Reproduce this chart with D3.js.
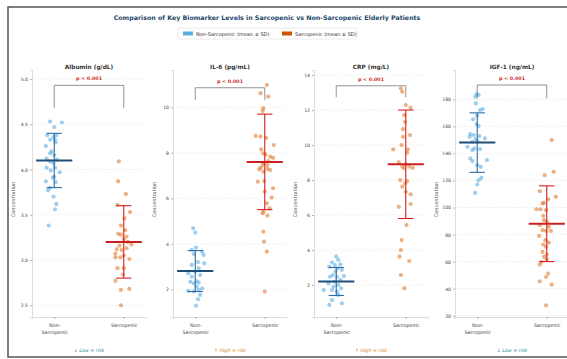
<!DOCTYPE html>
<html>
<head>
<meta charset="utf-8">
<script src="https://cdn.jsdelivr.net/npm/d3@7"></script>
<style>
  body { margin: 0; background: #fff; }
  svg { font-family: "DejaVu Sans", sans-serif; }
</style>
</head>
<body>
<div id="chart"></div>
<script>
// ---- data ----
const groups = ["Non-Sarcopenic", "Sarcopenic"];
const markers = ["Albumin (g/dL)", "IL-6 (pg/mL)", "CRP (mg/L)", "IGF-1 (ng/mL)"];
const riskNotes = ["\u2193 Low = risk", "\u2191 High = risk", "\u2191 High = risk", "\u2193 Low = risk"];
const pLabels = ["p < 0.001", "p < 0.001", "p < 0.001", "p < 0.001"];

const means = [[4.1, 3.2], [2.8, 7.6], [2.2, 8.9], [148, 88]];
const sds = [[0.3, 0.4], [0.9, 2.1], [0.8, 3.1], [22, 28]];

const yDomains = [[2.37, 5.1], [0.78, 11.64], [0.17, 14.29], [19, 201.7]];
const yTicks = [
  [2.5, 3.0, 3.5, 4.0, 4.5, 5.0],
  [2, 4, 6, 8, 10],
  [2, 4, 6, 8, 10, 12, 14],
  [20, 40, 60, 80, 100, 120, 140, 160, 180]
];
// bracket top and bracket foot, in data units
const brackets = [[4.93, 4.68], [10.86, 10.32], [13.39, 12.73], [190.6, 180.7]];

// individual patients: [value, jitter in category units]
const albuminNon = [[4.53,-0.06],[4.52,0.11],[4.47,0],[4.38,-0.10],[4.38,0.03],[4.36,-0.01],[4.33,-0.06],[4.33,0.01],[4.30,0.02],[4.26,-0.12],[4.20,-0.04],[4.18,-0.06],[4.16,0],[4.12,-0.11],[4.11,0.04],[4.09,-0.06],[4.07,-0.01],[4.02,-0.11],[4.02,0.01],[3.97,0.08],[3.99,-0.05],[3.92,0],[3.91,-0.02],[3.87,-0.12],[3.86,0.02],[3.80,-0.06],[3.77,-0.09],[3.70,-0.01],[3.62,0.03],[3.56,0.01],[3.38,-0.08]];
const albuminSar = [[4.09,-0.07],[3.87,-0.08],[3.73,0.03],[3.61,-0.09],[3.53,0.09],[3.46,0.01],[3.38,-0.04],[3.33,0.02],[3.29,-0.08],[3.28,-0.04],[3.26,0.04],[3.23,0],[3.20,0.06],[3.17,0.11],[3.16,-0.06],[3.13,0.04],[3.12,-0.10],[3.11,-0.03],[3.07,-0.12],[3.05,0],[3.03,-0.05],[3.01,0.08],[3.03,-0.12],[2.91,-0.09],[2.91,0],[2.84,-0.01],[2.77,-0.12],[2.67,-0.04],[2.68,0.08],[2.50,-0.04]];
const il6Non = [[4.68,-0.03],[4.49,0],[3.83,0.01],[3.73,-0.05],[3.65,0.10],[3.55,-0.02],[3.51,0.12],[3.07,-0.05],[3.14,0.13],[3.19,0.04],[2.70,-0.10],[2.77,0],[2.92,0.05],[2.55,-0.05],[2.63,0.07],[2.36,0.02],[2.26,-0.02],[2.29,0.05],[2.04,0.10],[1.93,-0.10],[1.90,-0.02],[1.97,0.05],[1.75,0.07],[1.56,0.04],[1.28,0.01],[2.33,-0.07],[2.11,0.02]];
const il6Sar = [[10.98,0.03],[10.62,-0.06],[10.47,0.05],[9.96,-0.02],[9.84,-0.03],[8.74,-0.13],[8.71,-0.06],[8.66,0.02],[8.34,0.13],[8.15,-0.05],[7.98,-0.02],[7.93,0.01],[7.83,0.08],[7.78,0.12],[7.64,0.05],[7.54,-0.01],[7.46,-0.03],[7.46,0.04],[7.34,-0.06],[7.27,-0.08],[7.24,0.08],[7.29,0.04],[7.17,-0.02],[6.73,-0.10],[6.76,-0.01],[6.44,0.12],[6.29,0],[6.03,0.10],[5.78,0.03],[5.56,0.07],[5.41,-0.02],[5.34,-0.03],[5.24,0.04],[4.53,-0.02],[4.09,-0.01],[3.65,0.03],[1.90,0]];
const crpNon = [[3.62,0],[3.43,0.03],[3.30,-0.06],[3.18,0.06],[3.14,-0.02],[3.05,-0.10],[2.95,0.02],[2.86,0.08],[2.76,-0.01],[2.57,-0.05],[2.51,0.11],[2.47,0.01],[2.47,-0.09],[2.29,0.06],[2.19,-0.02],[2.10,-0.11],[2.0,0.03],[1.71,-0.18],[1.71,-0.06],[1.62,0.01],[1.43,0.03],[1.14,-0.06],[0.95,0.08],[0.86,-0.10],[1.90,-0.04],[1.81,0.07]];
const crpSar = [[13.24,-0.07],[13.05,-0.05],[12.29,0],[12.13,0.07],[11.71,-0.02],[11.33,-0.01],[10.91,-0.04],[10.57,0.06],[10.47,-0.04],[10.0,-0.06],[9.75,-0.18],[9.75,0.03],[9.56,0.02],[9.01,-0.10],[8.90,0],[8.76,-0.05],[8.76,0.05],[8.70,0.10],[8.67,-0.02],[8.0,-0.08],[7.94,0.02],[7.81,-0.01],[7.62,-0.05],[7.33,0],[7.18,0.07],[6.63,0.07],[6.47,-0.10],[5.43,0.01],[4.57,-0.06],[4.0,-0.07],[3.62,-0.09],[3.37,0.05],[2.57,-0.07],[1.81,-0.02]];
const igfNon = [[183.9,-0.01],[183.2,0.02],[181.9,-0.03],[177,-0.02],[172.1,0.04],[172.8,0.08],[167.9,0],[165.2,-0.06],[161.7,-0.01],[160.2,0.02],[154.3,-0.10],[153.6,-0.05],[152.8,0.03],[151.1,0.11],[152.3,-0.11],[150.6,-0.02],[149.1,0],[148.6,-0.07],[144.9,-0.14],[143.7,-0.04],[143.2,0.04],[142.4,-0.07],[136.3,-0.10],[134.3,-0.07],[135.0,0.14],[131.3,0],[130.1,0.05],[121.9,0.06],[120.2,0.02],[117.0,0],[110.8,-0.03]];
const igfSar = [[149.9,0.07],[126.4,0.10],[123.9,-0.03],[112.1,-0.10],[107.9,0.13],[106.1,0.02],[103.4,-0.04],[103,-0.06],[98.7,-0.15],[98.7,-0.09],[98,-0.01],[93.8,-0.05],[90.6,-0.04],[89.4,0],[86.9,-0.10],[85.6,0.03],[83.2,-0.06],[82.7,-0.01],[82.7,0.06],[79.0,-0.11],[75.8,-0.02],[74.1,0.03],[72.6,-0.05],[70.8,-0.01],[67.1,-0.06],[65.1,0],[63.4,-0.04],[61.7,0],[59.7,-0.08],[57.8,-0.10],[51.1,0.02],[48.6,-0.01],[45.4,-0.10],[43.0,0.07],[27.6,-0.01]];
const points = [[albuminNon, albuminSar], [il6Non, il6Sar], [crpNon, crpSar], [igfNon, igfSar]];

// ---- layout ----
const width = 567, height = 359;
const panelLeft = 32, panelStep = 141, panelWidth = 114;
const plotTop = 70, plotBottom = 317;

const dotColors = ["#5dade2", "#e07b30"];
const meanColors = ["#1f4e79", "#cc1f1f"];
const barColors = ["#2e6a9e", "#d62020"];
const noteColors = ["#2a8f8f", "#e67e22", "#e67e22", "#2a8f8f"];

const svg = d3.select("#chart").append("svg")
  .attr("width", width)
  .attr("height", height);

svg.append("rect")
  .attr("x", 8).attr("y", 7)
  .attr("width", 570).attr("height", 350)
  .attr("fill", "none")
  .attr("stroke", "#555")
  .attr("stroke-width", 1.5);

svg.append("text")
  .attr("x", 267).attr("y", 20)
  .attr("text-anchor", "middle")
  .attr("font-size", 6.3)
  .attr("font-weight", "bold")
  .attr("fill", "#24476b")
  .text("Comparison of Key Biomarker Levels in Sarcopenic vs Non-Sarcopenic Elderly Patients");

// legend
const legend = svg.append("g").attr("class", "legend");
legend.append("rect")
  .attr("x", 178).attr("y", 28)
  .attr("width", 179).attr("height", 11)
  .attr("rx", 1.5)
  .attr("fill", "#fff")
  .attr("stroke", "#ddd")
  .attr("stroke-width", 0.6);
const legendItems = ["Non-Sarcopenic (mean \u00b1 SD)", "Sarcopenic (mean \u00b1 SD)"];
const legendX = [183, 282];
const legendPatch = ["#5dade2", "#d35400"];
legendItems.forEach((t, i) => {
  legend.append("rect")
    .attr("x", legendX[i]).attr("y", 31.5)
    .attr("width", 10).attr("height", 4)
    .attr("fill", legendPatch[i]);
  legend.append("text")
    .attr("x", legendX[i] + 13).attr("y", 35.5)
    .attr("font-size", 5)
    .attr("fill", "#333")
    .text(t);
});

markers.forEach((name, p) => {
  const left = panelLeft + p * panelStep;
  const x = d3.scaleLinear([-0.32, 1.32], [left, left + panelWidth]);
  const y = d3.scaleLinear(yDomains[p], [plotBottom, plotTop]);
  const g = svg.append("g").attr("class", "panel");

  // grid
  g.append("g")
    .selectAll("line")
    .data(yTicks[p])
    .join("line")
      .attr("x1", left).attr("x2", left + panelWidth)
      .attr("y1", d => y(d)).attr("y2", d => y(d))
      .attr("stroke", "#ddd")
      .attr("stroke-width", 0.5)
      .attr("stroke-dasharray", "1.5,1.5");

  // axes
  const yAxis = d3.axisLeft(y)
    .tickValues(yTicks[p])
    .tickFormat(p === 0 ? d3.format(".1f") : d3.format("d"))
    .tickSize(2).tickPadding(2);
  g.append("g")
      .attr("transform", `translate(${left},0)`)
      .call(yAxis)
      .call(s => s.select(".domain").attr("stroke", "#ddd"))
      .call(s => s.selectAll(".tick line").attr("stroke", "#666").attr("stroke-width", 0.5))
      .call(s => s.selectAll(".tick text").attr("font-size", 4.6).attr("fill", "#444").attr("font-family", "DejaVu Sans"));

  const xAxis = d3.axisBottom(x).tickValues([0, 1]).tickSize(2).tickFormat("");
  const xg = g.append("g")
      .attr("transform", `translate(0,${plotBottom})`)
      .call(xAxis)
      .call(s => s.select(".domain").attr("stroke", "#ddd"))
      .call(s => s.selectAll(".tick line").attr("stroke", "#666").attr("stroke-width", 0.5));
  xg.selectAll(".tick").each(function(d) {
    const t = d3.select(this).append("text")
      .attr("fill", "#444")
      .attr("font-size", 4.8)
      .attr("font-family", "DejaVu Sans")
      .attr("text-anchor", "middle");
    const lines = d === 0 ? ["Non-", "Sarcopenic"] : ["Sarcopenic"];
    lines.forEach((l, k) => t.append("tspan").attr("x", 0).attr("y", 10 + k * 6.5).text(l));
  });

  // y label
  g.append("text")
    .attr("transform", `translate(${left - 17},${(plotTop + plotBottom) / 2 + 6}) rotate(-90)`)
    .attr("text-anchor", "middle")
    .attr("font-size", 5)
    .attr("fill", "#555")
    .text("Concentration");

  // panel title
  g.append("text")
    .attr("x", left + panelWidth / 2).attr("y", 68.5)
    .attr("text-anchor", "middle")
    .attr("font-size", 5.8)
    .attr("font-weight", "bold")
    .attr("fill", "#333")
    .text(name);

  // points
  groups.forEach((_, gi) => {
    g.append("g")
      .selectAll("circle")
      .data(points[p][gi])
      .join("circle")
        .attr("cx", d => x(gi + d[1]))
        .attr("cy", d => y(d[0]))
        .attr("r", 2.1)
        .attr("fill", dotColors[gi])
        .attr("fill-opacity", 0.6);

    const m = means[p][gi], s = sds[p][gi];
    const eb = g.append("g").attr("stroke", barColors[gi]).attr("stroke-width", 1.1);
    eb.append("line").attr("x1", x(gi)).attr("x2", x(gi)).attr("y1", y(m - s)).attr("y2", y(m + s));
    [m - s, m + s].forEach(v => eb.append("line")
      .attr("x1", x(gi - 0.11)).attr("x2", x(gi + 0.11))
      .attr("y1", y(v)).attr("y2", y(v)));
    g.append("line")
      .attr("x1", x(gi - 0.26)).attr("x2", x(gi + 0.26))
      .attr("y1", y(m)).attr("y2", y(m))
      .attr("stroke", meanColors[gi])
      .attr("stroke-width", 2);
  });

  // significance bracket
  const [bTop, bFoot] = brackets[p];
  g.append("path")
    .attr("d", d3.line()([[x(0), y(bFoot)], [x(0), y(bTop)], [x(1), y(bTop)], [x(1), y(bFoot)]]))
    .attr("fill", "none")
    .attr("stroke", "#666")
    .attr("stroke-width", 0.7);
  g.append("text")
    .attr("x", x(0.5)).attr("y", y(bTop) - 5)
    .attr("text-anchor", "middle")
    .attr("font-size", 4.8)
    .attr("font-weight", "bold")
    .attr("fill", "#cc1f1f")
    .text(pLabels[p]);

  // risk note
  g.append("text")
    .attr("x", left + panelWidth / 2).attr("y", 352)
    .attr("text-anchor", "middle")
    .attr("font-size", 4.8)
    .attr("font-style", "italic")
    .attr("fill", noteColors[p])
    .text(riskNotes[p]);
});
</script>
</body>
</html>
